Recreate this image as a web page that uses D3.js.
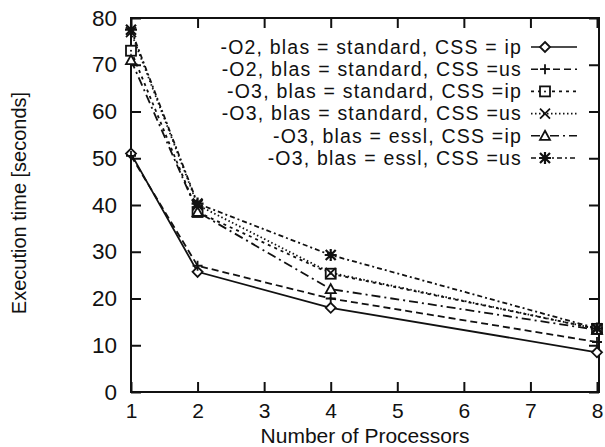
<!DOCTYPE html>
<html><head><meta charset="utf-8">
<script src="https://cdn.jsdelivr.net/npm/d3@7"></script>
<style>body{margin:0;background:#fff}svg{display:block}text{font-family:"Liberation Sans",Arial,sans-serif;fill:#111}</style>
</head><body><svg id="c" width="605" height="447"></svg>
<script>
const processors = [1, 2, 4, 8];
const xTicks = [1, 2, 3, 4, 5, 6, 7, 8];
const yTicks = [0, 10, 20, 30, 40, 50, 60, 70, 80];
const seriesNames = [
  "-O2, blas = standard, CSS = ip",
  "-O2, blas = standard, CSS =us",
  "-O3, blas = standard, CSS =ip",
  "-O3, blas = standard, CSS =us",
  "-O3, blas = essl, CSS =ip",
  "-O3, blas = essl, CSS =us"
];
const o2StdIp = [51, 25.7, 18, 8.5];
const o2StdUs = [50.5, 27, 20, 10.7];
const o3StdIp = [73, 38.5, 25.3, 13.5];
const o3StdUs = [77, 40, 25.5, 13.5];
const o3EsslIp = [71, 38.5, 22, 13.3];
const o3EsslUs = [77.5, 40.3, 29.3, 13.6];
const seriesValues = [o2StdIp, o2StdUs, o3StdIp, o3StdUs, o3EsslIp, o3EsslUs];
const markers = ["diamond", "plus", "square", "cross", "triangle", "star"];
const dashes = ["none", "7,4", "3,4", "1.5,2.5", "9,4,2,4", "5,3,2,3"];

const svg = d3.select("#c");
const L = 131, R = 599, T = 18, B = 392;
const x = d3.scaleLinear().domain([1, 8]).range([L, R - 2]);
const y = d3.scaleLinear().domain([0, 80]).range([B, T]);
const ink = "#111";
const FS = 22.5;

svg.append("rect").attr("x", L).attr("y", T).attr("width", R - L).attr("height", B - T)
  .attr("fill", "none").attr("stroke", ink).attr("stroke-width", 2);

const gy = svg.append("g").attr("transform", `translate(${L},0)`)
  .call(d3.axisLeft(y).tickValues(yTicks).tickSize(-10).tickPadding(24).tickFormat(d3.format("d")));
const gyR = svg.append("g").attr("transform", `translate(${R},0)`)
  .call(d3.axisRight(y).tickValues(yTicks).tickSize(-10).tickFormat(""));
const gx = svg.append("g").attr("transform", `translate(0,${B})`)
  .call(d3.axisBottom(x).tickValues(xTicks).tickSize(-10).tickPadding(22).tickFormat(d3.format("d")));
const gxT = svg.append("g").attr("transform", `translate(0,${T})`)
  .call(d3.axisTop(x).tickValues(xTicks).tickSize(-10).tickFormat(""));
[gy, gyR, gx, gxT].forEach(g => {
  g.select(".domain").remove();
  g.selectAll(".tick line").attr("stroke", ink).attr("stroke-width", 2);
  g.selectAll(".tick text").attr("font-size", FS).style("font-family", '"Liberation Sans",Arial,sans-serif').attr("fill", ink);
});
gy.selectAll(".tick text").attr("x", -14);
gx.selectAll(".tick text").attr("font-size", 21).attr("dy", "0.35em").attr("y", 19);

svg.append("text").attr("x", 365).attr("y", 443).attr("text-anchor", "middle")
  .attr("font-size", 21).text("Number of Processors");
svg.append("text").attr("transform", "translate(26,203) rotate(-90)").attr("text-anchor", "middle")
  .attr("font-size", 20).text("Execution time [seconds]");

function drawMarker(g, type, cx, cy) {
  const s = 5;
  const m = g.append("g").attr("transform", `translate(${cx},${cy})`)
    .attr("fill", "#fff").attr("stroke", ink).attr("stroke-width", 1.8);
  if (type === "diamond") m.append("path").attr("d", `M0,${-s}L${s},0L0,${s}L${-s},0Z`);
  else if (type === "plus") m.append("path").attr("d", `M${-s},0H${s}M0,${-s}V${s}`);
  else if (type === "square") { m.append("rect").attr("x", -s).attr("y", -s).attr("width", 2*s).attr("height", 2*s);
    m.append("circle").attr("r", 1).attr("fill", ink).attr("stroke", "none"); }
  else if (type === "cross") m.append("path").attr("d", `M${-s},${-s}L${s},${s}M${-s},${s}L${s},${-s}`);
  else if (type === "triangle") m.append("path").attr("d", `M0,${-s}L${s},${s*0.8}L${-s},${s*0.8}Z`);
  else if (type === "star") m.append("path").attr("d", `M${-s},${-s}L${s},${s}M${-s},${s}L${s},${-s}M${-s-1},0H${s+1}M0,${-s-1}V${s+1}`).attr("stroke-width", 2.2);
}

const line = d3.line().x((d, i) => x(processors[i])).y(d => y(d));
seriesValues.forEach((vals, k) => {
  svg.append("path").datum(vals).attr("d", line).attr("fill", "none").attr("stroke", ink)
    .attr("stroke-width", 1.8).attr("stroke-dasharray", dashes[k]);
});
seriesValues.forEach((vals, k) => {
  vals.forEach((v, i) => drawMarker(svg, markers[k], x(processors[i]), y(v)));
});

seriesNames.forEach((name, k) => {
  const ly = 47 + k * 22.2;
  svg.append("text").attr("x", 522).attr("y", ly).attr("dy", "0.35em").attr("text-anchor", "end")
    .attr("font-size", 19.5).attr("letter-spacing", "1.2px").text(name);
  svg.append("line").attr("x1", 531).attr("x2", 577).attr("y1", ly).attr("y2", ly)
    .attr("stroke", ink).attr("stroke-width", 1.6).attr("stroke-dasharray", dashes[k]);
  drawMarker(svg, markers[k], 545, ly);
});
</script></body></html>
